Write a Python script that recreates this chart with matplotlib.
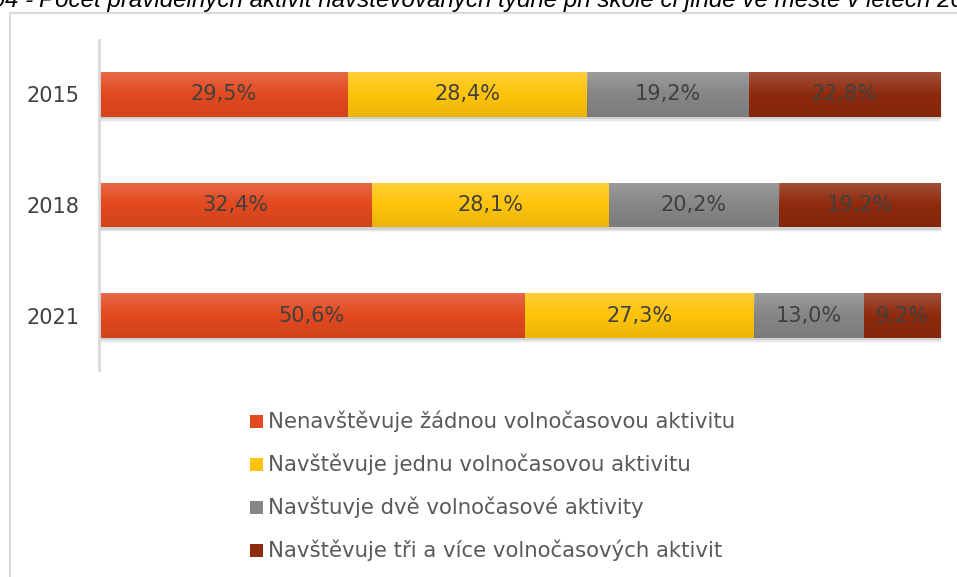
import matplotlib
matplotlib.use("Agg")
import matplotlib.pyplot as plt
import numpy as np
from matplotlib.patches import Rectangle

years = ["2015", "2018", "2021"]
series_names = [
    "Nenavštěvuje žádnou volnočasovou aktivitu",
    "Navštěvuje jednu volnočasovou aktivitu",
    "Navštuvje dvě volnočasové aktivity",
    "Navštěvuje tři a více volnočasových aktivit",
]
none_act = [29.5, 32.4, 50.6]
one_act = [28.4, 28.1, 27.3]
two_act = [19.2, 20.2, 13.0]
three_plus = [22.8, 19.2, 9.2]
colors = ["#E2491F", "#FEC40A", "#868686", "#8E2A0E"]

title_prefix = "Graf 04 -"
title = "Počet pravidelných aktivit navštěvovaných týdně při škole či jinde ve městě v letech 2015–2021"

W, H = 957, 577
fig = plt.figure(figsize=(W / 100, H / 100), dpi=100)
fig.patch.set_facecolor("white")

# chart frame
fig.add_artist(Rectangle((10 / W, -0.05), 1.2, 1 - 13 / H + 0.05, transform=fig.transFigure,
                         fill=False, edgecolor="#D9D9D9", linewidth=1.5))

# clipped title
tfs = 17.4
fig.text(33 / W, 1 - 7 / H, title_prefix, ha="right", va="baseline", fontsize=tfs,
         family="Liberation Sans", style="italic", color="black")
fig.text(39 / W, 1 - 7 / H, title, ha="left", va="baseline", fontsize=tfs,
         family="Liberation Sans", style="italic", color="black")

ax = fig.add_axes([99 / W, 1 - 370 / H, (941 - 99) / W, (370 - 40) / H])
data = np.array([none_act, one_act, two_act, three_plus])
pct = data / data.sum(axis=0) * 100
y = np.arange(len(years))
left = np.zeros(len(years))
font = "DejaVu Sans"
bh = 0.407

# vertical gradient overlay: light at top, slightly dark at bottom
n = 64
t = np.linspace(0, 1, n)[:, None]
grad = np.zeros((n, 1, 4))
top_a = np.clip(0.18 * (1 - t / 0.5), 0, None)
bot_a = np.clip(0.08 * (t - 0.5) / 0.5, 0, None)
grad[..., :3] = np.where(t[..., None] < 0.5, 1.0, 0.0)
grad[..., 3] = np.where(t < 0.5, top_a, bot_a)

for i, (vals, raw) in enumerate(zip(pct, data)):
    # soft shadow
    for k, a in enumerate([0.10, 0.06, 0.03]):
        ax.barh(y + 0.02 + 0.012 * k, vals, left=left + 0.15, height=bh, color="#000000",
                alpha=a, linewidth=0, zorder=1)
    ax.barh(y, vals, left=left, height=bh, color=colors[i], linewidth=0,
            label=series_names[i], zorder=2)
    for yy, l, v, r in zip(y, left, vals, raw):
        ax.imshow(grad, extent=[l, l + v, yy + bh / 2, yy - bh / 2], aspect="auto",
                  zorder=2.5, interpolation="bilinear")
        ax.text(l + v / 2, yy, f"{r:.1f}%".replace(".", ","), ha="center", va="center",
                fontsize=15, color="#404040", family=font, zorder=3)
    left += vals

ax.set_xlim(0, 100)
ax.set_ylim(2.493, -0.493)
ax.set_yticks(y)
ax.set_yticklabels(years, fontsize=15, color="#404040", family=font)
ax.tick_params(axis="y", length=0, pad=14)
ax.set_xticks([])
for s in ["top", "right", "bottom"]:
    ax.spines[s].set_visible(False)
ax.spines["left"].set_color("#D9D9D9")
ax.spines["left"].set_linewidth(2)

# legend
leg_y = [421, 464, 507, 550]
for i, name in enumerate(series_names):
    yy = 1 - leg_y[i] / H
    fig.add_artist(Rectangle((250 / W, yy - 7 / H), 13 / W, 13 / H, transform=fig.transFigure,
                             color=colors[i], linewidth=0))
    fig.text(268 / W, yy, name, ha="left", va="center", fontsize=15.3, color="#595959",
             family=font)

fig.savefig("out.png", dpi=100)
